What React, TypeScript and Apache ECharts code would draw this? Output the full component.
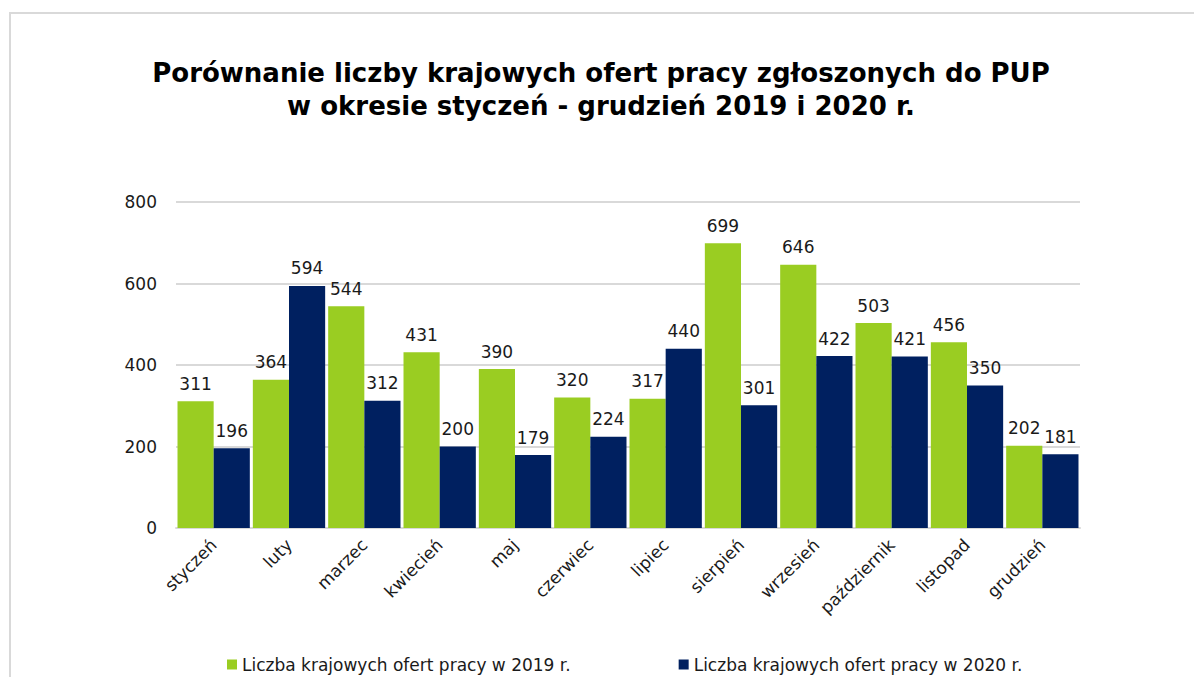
import React, { useEffect, useRef } from "react";
import * as echarts from "echarts";

const titleText = "Porównanie liczby krajowych ofert pracy zgłoszonych do PUP\nw okresie styczeń - grudzień 2019 i 2020 r.";
const months = ["styczeń", "luty", "marzec", "kwiecień", "maj", "czerwiec", "lipiec", "sierpień", "wrzesień", "październik", "listopad", "grudzień"];
const series2019Name = "Liczba krajowych ofert pracy w 2019 r.";
const series2020Name = "Liczba krajowych ofert pracy w 2020 r.";
const values2019 = [311, 364, 544, 431, 390, 320, 317, 699, 646, 503, 456, 202];
const values2020 = [196, 594, 312, 200, 179, 224, 440, 301, 422, 421, 350, 181];
const yTicks = [0, 200, 400, 600, 800];

const GREEN = "#9ACD22";
const NAVY = "#002060";
const FONT = "'DejaVu Sans', Verdana, sans-serif";

export default function App() {
  const ref = useRef<HTMLDivElement>(null);
  useEffect(() => {
    document.body.style.margin = "0";
    const chart = echarts.init(ref.current!, null, { renderer: "svg" });
    chart.setOption({
      animation: false,
      backgroundColor: "#ffffff",
      textStyle: { fontFamily: FONT },
      graphic: [
        {
          type: "rect",
          shape: { x: 10, y: 13, width: 1200, height: 700 },
          style: { fill: "none", stroke: "#d9d9d9", lineWidth: 2 },
          silent: true,
          z: -1,
        },
      ],
      title: {
        text: titleText,
        left: 596,
        textAlign: "center",
        top: 51,
        textStyle: {
          fontFamily: FONT,
          fontWeight: "bold",
          fontSize: 26,
          lineHeight: 33,
          color: "#000",
        },
      },
      legend: {
        left: 222,
        top: 651,
        itemWidth: 10,
        itemHeight: 10,
        itemGap: 108,
        icon: "rect",
        textStyle: { fontFamily: FONT, fontSize: 17, color: "#1a1a1a", padding: [0, 0, 0, 0] },
        data: [series2019Name, series2020Name],
      },
      grid: { left: 176, right: 114, top: 202, bottom: 149, containLabel: false },
      xAxis: {
        type: "category",
        data: months,
        axisLine: { lineStyle: { color: "#d9d9d9", width: 2 } },
        axisTick: { show: false },
        axisLabel: {
          rotate: 45,
          interval: 0,
          fontFamily: FONT,
          fontSize: 17,
          color: "#1a1a1a",
          margin: 14,
        },
      },
      yAxis: {
        type: "value",
        min: yTicks[0],
        max: yTicks[yTicks.length - 1],
        interval: 200,
        axisLine: { show: false },
        axisTick: { show: false },
        splitLine: { lineStyle: { color: "#d9d9d9", width: 2 } },
        axisLabel: { fontFamily: FONT, fontSize: 17, color: "#1a1a1a", margin: 19 },
      },
      series: [
        {
          name: series2019Name,
          type: "bar",
          data: values2019,
          itemStyle: { color: GREEN },
          barGap: "0%",
          barCategoryGap: "4%",
          label: { show: true, position: "top", distance: 9, fontFamily: FONT, fontSize: 17, color: "#1a1a1a" },
        },
        {
          name: series2020Name,
          type: "bar",
          data: values2020,
          itemStyle: { color: NAVY },
          barGap: "0%",
          barCategoryGap: "4%",
          label: { show: true, position: "top", distance: 9, fontFamily: FONT, fontSize: 17, color: "#1a1a1a" },
        },
      ],
    });
    return () => chart.dispose();
  }, []);
  return <div ref={ref} style={{ position: "fixed", left: 0, top: 0, width: 1194, height: 677 }} />;
}
